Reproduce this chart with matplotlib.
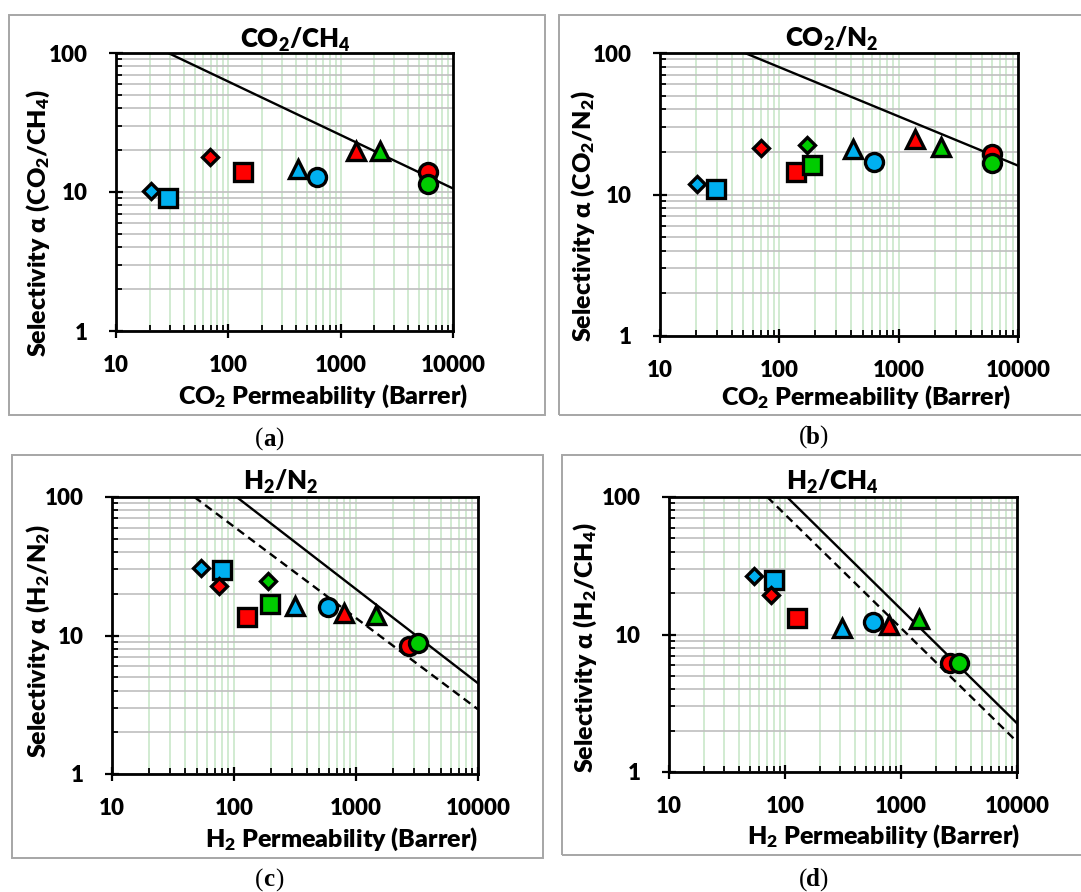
import matplotlib
matplotlib.use("Agg")
import matplotlib.pyplot as plt
from matplotlib.patches import Rectangle
from matplotlib.transforms import offset_copy
from matplotlib.ticker import LogLocator, NullFormatter, FixedLocator

# sample keys (marker shape + colour in the original figure)
SAMPLES = ["blue_diamond", "blue_square", "red_diamond", "red_square",
           "green_diamond", "green_square", "blue_triangle", "blue_circle",
           "red_triangle", "green_triangle", "red_circle", "green_circle"]

# (a) CO2/CH4 : CO2 permeability (Barrer), selectivity
PERM_A = [20.5, 29.2, 69, 135, None, None, 414, 620, 1360, 2240, 6030, 6030]
SEL_A = [10.2, 9.1, 17.9, 13.9, None, None, 14.6, 12.9, 19.8, 19.8, 13.9, 11.5]
# (b) CO2/N2
PERM_B = [20.5, 29.3, 70, 137, 172, 189, 412, 625, 1370, 2265, 6030, 6030]
SEL_B = [11.9, 10.9, 21.3, 14.5, 22.4, 16.2, 20.8, 16.9, 24.5, 21.7, 19.2, 16.6]
# (c) H2/N2 : H2 permeability
PERM_C = [53.7, 80.2, 75.3, 127, 190, 196, 314, 586, 802, 1459, 2735, 3245]
SEL_C = [30.9, 29.7, 22.9, 13.7, 24.7, 16.9, 16.2, 16.0, 14.5, 14.1, 8.4, 8.8]
# (d) H2/CH4
PERM_D = [53.7, 80.9, 75.3, 126, None, None, 312, 577, 793, 1440, 2640, 3185]
SEL_D = [26.8, 24.9, 19.4, 13.1, None, None, 11.2, 12.4, 11.7, 13.0, 6.2, 6.2]

# upper-bound lines (end points)
UB_A_X, UB_A_Y = [29.2, 10000], [100, 10.6]
UB_B_X, UB_B_Y = [51.5, 10000], [100, 16.0]
UB_C_X, UB_C_Y = [105, 10000], [100, 4.52]
UB91_C_X, UB91_C_Y = [47.3, 10000], [100, 2.93]
UB_D_X, UB_D_Y = [104, 10000], [100, 2.26]
UB91_D_X, UB91_D_Y = [70.3, 10000], [100, 1.66]

X_TICKS = [10, 100, 1000, 10000]
Y_TICKS = [1, 10, 100]

BLUE = "#00B0F0"
RED = "#FF0000"
GREEN = "#00CC00"
VGRID = "#C9E8C9"
HGRID = "#BFBFBF"
FRAME = "#A6A6A6"

STYLE = {
    "blue_diamond": ("D", BLUE, 8.2), "blue_square": ("s", BLUE, 13.5),
    "red_diamond": ("D", RED, 8.2), "red_square": ("s", RED, 13.5),
    "green_diamond": ("D", GREEN, 8.2), "green_square": ("s", GREEN, 13.5),
    "blue_triangle": ("^", BLUE, 12.5), "blue_circle": ("o", BLUE, 13.0),
    "red_triangle": ("^", RED, 12.5), "green_triangle": ("^", GREEN, 12.5),
    "red_circle": ("o", RED, 13.0), "green_circle": ("o", GREEN, 13.0),
}
# drawing order so overlaps match the original
ORDER = ["blue_diamond", "blue_square", "red_diamond", "red_square",
         "green_diamond", "green_square", "blue_triangle", "blue_circle",
         "red_triangle", "green_triangle", "red_circle", "green_circle"]

plt.rcParams["font.family"] = ["Lato", "DejaVu Sans"]
plt.rcParams["font.weight"] = "heavy"
plt.rcParams["axes.labelweight"] = "heavy"
plt.rcParams["mathtext.fontset"] = "custom"
plt.rcParams["mathtext.rm"] = "Lato:heavy"
plt.rcParams["mathtext.it"] = "Lato:heavy"
plt.rcParams["mathtext.bf"] = "Lato:heavy"
plt.rcParams["mathtext.default"] = "rm"

W, H = 1081, 892
fig = plt.figure(figsize=(W / 100, H / 100), dpi=100)


def fx(x):
    return x / W


def fy(y):
    return 1 - y / H


def panel(rect, frame, perm, sel, lines, title, xlabel, ylabel, caption, pos):
    x0, y0, x1, y1 = frame
    fig.patches.append(Rectangle((fx(x0), fy(y1)), (x1 - x0) / W, (y1 - y0) / H,
                                 transform=fig.transFigure, fill=False,
                                 edgecolor=FRAME, lw=1.4, zorder=0))
    l, t, r, b = rect
    ax = fig.add_axes([fx(l), fy(b), (r - l) / W, (b - t) / H])
    ax.set_xscale("log")
    ax.set_yscale("log")
    ax.set_xlim(10, 10000)
    ax.set_ylim(1, 100)

    for xs, ys, ls in lines:
        ax.plot(xs, ys, color="black", lw=1.7, ls=ls, zorder=3,
                dashes=(3.5, 2.2) if ls == "--" else (None, None))

    for key in ORDER:
        i = SAMPLES.index(key)
        if perm[i] is None:
            continue
        m, c, ms = STYLE[key]
        ax.plot([perm[i]], [sel[i]], marker=m, color=c, ms=ms,
                mec="black", mew=2.4, ls="none", zorder=4, clip_on=False)

    ax.xaxis.set_major_locator(FixedLocator(X_TICKS))
    ax.yaxis.set_major_locator(FixedLocator(Y_TICKS))
    ax.xaxis.set_minor_locator(LogLocator(base=10, subs=range(2, 10), numticks=20))
    ax.yaxis.set_minor_locator(LogLocator(base=10, subs=range(2, 10), numticks=20))
    ax.xaxis.set_minor_formatter(NullFormatter())
    ax.yaxis.set_minor_formatter(NullFormatter())
    ax.set_xticklabels([str(v) for v in X_TICKS])
    ax.set_yticklabels([str(v) for v in Y_TICKS])

    ax.grid(True, which="both", axis="x", color=VGRID, lw=1.2)
    ax.grid(True, which="both", axis="y", color=HGRID, lw=1.2)
    ax.set_axisbelow(True)

    ax.tick_params(which="major", direction="inout", length=10, width=1.6,
                   labelsize=16, pad=12, color="black")
    ax.tick_params(which="minor", direction="in", length=4, width=1.3, color="black")
    ax.tick_params(axis="y", which="major", pad=15)
    ax.tick_params(top=False, right=False, which="both")
    for s in ax.spines.values():
        s.set_linewidth(2.0)
        s.set_color("black")

    (tx, ty), (lx, ly), (yx, yy) = pos
    fig.text(fx(tx), fy(ty), title, fontsize=18.5, ha="center", va="center")
    ax.set_xlabel(xlabel, fontsize=18, va="center")
    ax.xaxis.set_label_coords(fx(lx), fy(ly), transform=fig.transFigure)
    ax.set_ylabel(ylabel, fontsize=18, va="center")
    ax.yaxis.set_label_coords(fx(yx), fy(yy), transform=fig.transFigure)

    # caption: normal parentheses, bold letter, serif
    letter, cx, cy = caption
    serif = dict(fontsize=18, family="Liberation Serif", va="center")
    fig.text(fx(cx), fy(cy), letter, ha="center", fontweight="bold", **serif)
    fig.text(fx(cx), fy(cy), "(", ha="right", fontweight="normal",
             transform=offset_copy(fig.transFigure, fig=fig, x=-4.5, y=0, units="points"),
             **serif)
    fig.text(fx(cx), fy(cy), ")", ha="left", fontweight="normal",
             transform=offset_copy(fig.transFigure, fig=fig, x=4.5, y=0, units="points"),
             **serif)
    return ax


panel((116, 53, 453, 331), (9, 15, 545, 415), PERM_A, SEL_A,
      [(UB_A_X, UB_A_Y, "-")],
      "CO$_2$/CH$_4$", "CO$_2$ Permeability (Barrer)",
      "Selectivity α (CO$_2$/CH$_4$)", ("a", 269, 439),
      ((295, 40), (323, 396), (38, 223)))
panel((660, 53, 1018, 336), (559, 15, 1090, 415), PERM_B, SEL_B,
      [(UB_B_X, UB_B_Y, "-")],
      "CO$_2$/N$_2$", "CO$_2$ Permeability (Barrer)",
      "Selectivity α (CO$_2$/N$_2$)", ("b", 813, 437),
      ((832, 39), (866, 397), (583, 216)))
panel((112, 497, 478, 774), (12, 455, 543, 858), PERM_C, SEL_C,
      [(UB_C_X, UB_C_Y, "-"), (UB91_C_X, UB91_C_Y, "--")],
      "H$_2$/N$_2$", "H$_2$ Permeability (Barrer)",
      "Selectivity α (H$_2$/N$_2$)", ("c", 269, 880),
      ((281, 482), (342, 839), (38, 641)))
panel((669, 497, 1017, 772), (562, 455, 1090, 855), PERM_D, SEL_D,
      [(UB_D_X, UB_D_Y, "-"), (UB91_D_X, UB91_D_Y, "--")],
      "H$_2$/CH$_4$", "H$_2$ Permeability (Barrer)",
      "Selectivity α (H$_2$/CH$_4$)", ("d", 813, 880),
      ((832, 482), (884, 836), (585, 648)))

fig.savefig("out.png", dpi=100)
